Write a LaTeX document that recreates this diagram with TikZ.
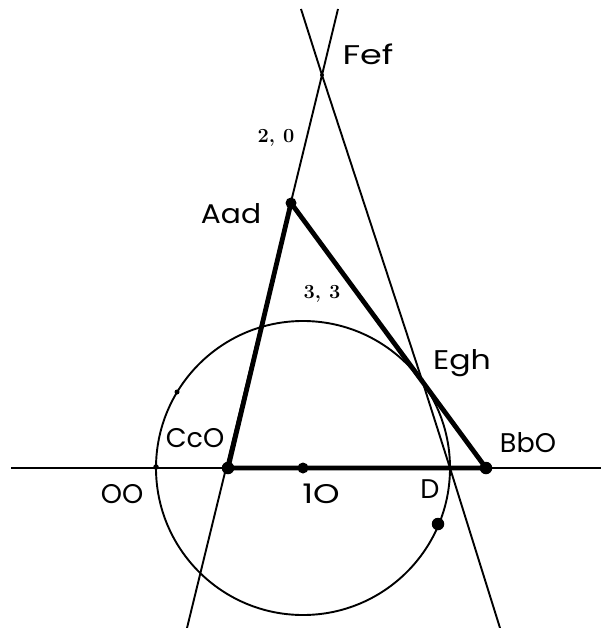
\documentclass[tikz,border=0pt]{standalone}
\usepackage{fontspec}
\newfontfamily\labfont{Poppins}
\tikzset{
  thin line/.style={line width=1.9pt, black},
  thick line/.style={line width=4.8pt, black, line cap=round, line join=round},
  lab/.style={font=\labfont\fontsize{27}{27}\selectfont, inner sep=0pt, anchor=center},
  numlab/.style={font=\bfseries\fontsize{20}{20}\selectfont, inner sep=0pt, anchor=center},
  bigdot/.style={circle, fill=black, inner sep=0pt, minimum size=12.5pt},
  middot/.style={circle, fill=black, inner sep=0pt, minimum size=11pt},
  smalldot/.style={circle, fill=black, inner sep=0pt, minimum size=5.5pt},
}
\newcommand{\wide}[2]{\scalebox{#1}[1]{#2}}
\begin{document}
\begin{tikzpicture}[x=1pt,y=-1pt]
\useasboundingbox (0,0) rectangle (601,628);
% points
\coordinate (A) at (291,203);
\coordinate (B) at (486,468);
\coordinate (C) at (228,468);
\coordinate (O) at (303,468);
\coordinate (F) at (322,75);
\coordinate (E) at (422,380);
\coordinate (D) at (450,468);
\coordinate (P) at (438,524);
\coordinate (Q) at (156,467);
\coordinate (R) at (177,392);
% free ends
\coordinate (hL) at (11,468);
\coordinate (hR) at (601,468);
\coordinate (l1T) at (338,9);
\coordinate (l1B) at (187,628);
\coordinate (l2T) at (301,9);
\coordinate (l2B) at (500,628);
% thin lines
\draw[thin line] (O) circle (147);
\draw[thin line] (hL) -- (hR);
\draw[thin line] (l1T) -- (F) -- (l1B);
\draw[thin line] (l2T) -- (F) -- (E) -- (D) -- (l2B);
% triangle
\draw[thick line] (A) -- (B) -- (C) -- cycle;
% dots
\node[bigdot] (nC) at (C) {};
\node[bigdot] (nB) at (B) {};
\node[bigdot] (nP) at (P) {};
\node[middot] (nA) at (A) {};
\node[middot] (nO) at (O) {};
\node[smalldot] (nQ) at (Q) {};
\node[smalldot, minimum size=5pt] (nR) at (R) {};
\node[smalldot, minimum size=4pt] (nF) at (F) {};
\node[smalldot, minimum size=4pt] (nE) at (E) {};
\node[smalldot, minimum size=4pt] (nD) at (D) {};
% labels
\node[lab] (tF) at (368,54) {\wide{1.3}{Fef}};
\node[lab] (tA) at (231,214) {\wide{1.1}{Aad}};
\node[lab] (tE) at (462,363) {\wide{1.17}{Egh}};
\node[lab] (tC) at (195,438) {CcO};
\node[lab] (tB) at (528,443) {BbO};
\node[lab] (tOO) at (122,494) {OO};
\node[lab] (t10) at (321,494) {\wide{1.25}{1O}};
\node[lab] (tD) at (430,489) {D};
\node[numlab] (n20) at (276,138) {2,\hspace{8pt}0};
\node[numlab] (n33) at (322,294) {3,\hspace{8pt}3};
\end{tikzpicture}
\end{document}
